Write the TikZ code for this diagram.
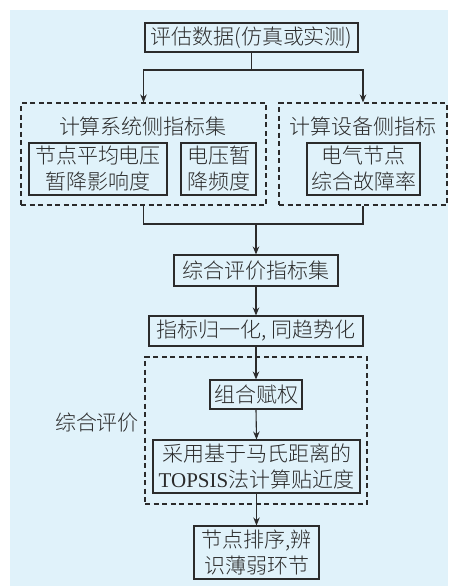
\documentclass[tikz,border=0pt]{standalone}
\usepackage{fontspec}
\newfontfamily\cjk[UprightFont={* Light}]{Noto Sans CJK SC}
\newfontfamily\latinserif{Liberation Serif}
\usetikzlibrary{arrows.meta}
\definecolor{bgblue}{HTML}{E0F2FA}
\definecolor{ink}{HTML}{2B2B2B}
\tikzset{
  every node/.style={font=\cjk\fontsize{21}{26}\selectfont, text=ink},
  sbox/.style={draw=ink, line width=1.1pt, inner sep=0pt, align=center},
  dbox/.style={draw=ink, line width=1.1pt, dash pattern=on 5pt off 3.5pt, inner sep=0pt},
  conn/.style={draw=ink, line width=1.1pt},
  arr/.style={conn, -{Stealth[length=8pt,width=6.5pt]}},
}
\begin{document}
\begin{tikzpicture}[x=1pt,y=-1pt]
\useasboundingbox (0,0) rectangle (448,587);
\fill[bgblue] (10,10) rectangle (448,586);

\node[sbox, minimum width=213pt, minimum height=29pt] (top) at (251.5,37.5) {评估数据(仿真或实测)};

\node[dbox, minimum width=245pt, minimum height=102pt] (L) at (143.5,154) {};
\node[dbox, minimum width=168pt, minimum height=102pt] (R) at (363,154) {};
\node (Lt) at (143,127) {计算系统侧指标集};
\node (Rt) at (363,127) {计算设备侧指标};
\node[sbox, minimum width=138pt, minimum height=52pt] (b1) at (98,169) {节点平均电压\\暂降影响度};
\node[sbox, minimum width=75pt, minimum height=52pt] (b2) at (218.5,169) {电压暂\\降频度};
\node[sbox, minimum width=113pt, minimum height=52pt] (b3) at (363.5,169) {电气节点\\综合故障率};

\node[sbox, minimum width=164pt, minimum height=31pt] (b4) at (256,270.5) {综合评价指标集};
\node[sbox, minimum width=214pt, minimum height=30pt] (b5) at (256,331) {指标归一化, 同趋势化};

\node[dbox, minimum width=222pt, minimum height=147pt] (D) at (256,430.5) {};
\node (Dt) at (97,423) {综合评价};
\node[sbox, minimum width=92pt, minimum height=29pt] (b6) at (256,394.5) {组合赋权};
\node[sbox, minimum width=207pt, minimum height=53pt] (b7) at (256.5,466.5) {采用基于马氏距离的\\{\latinserif TOPSIS}法计算贴近度};
\node[sbox, minimum width=125pt, minimum height=53pt] (b8) at (256.5,552.5) {节点排序,辨\\识薄弱环节};

\coordinate (split) at (251.5,70);
\coordinate (merge) at (256,224);
\draw[conn] (top.south) -- (split);
\draw[arr] (split) -| (L.north);
\draw[arr] (split) -| (R.north);
\draw[conn] (L.south) |- (merge) -| (R.south);
\draw[arr] (merge) -- (b4.north);
\draw[arr] (b4.south) -- (b5.north);
\draw[arr] (b5.south) -- (b6.north);
\draw[arr] (b6.south) -- (b7.north);
\draw[arr] (b7.south) -- (b8.north);
\end{tikzpicture}
\end{document}
